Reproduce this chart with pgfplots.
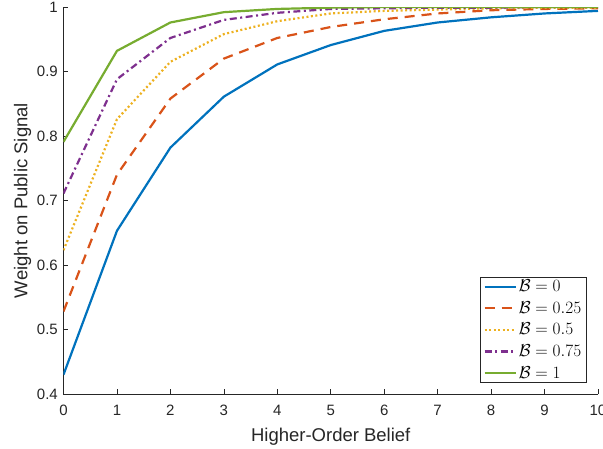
\documentclass[border=0pt]{standalone}
\usepackage[no-math]{fontspec}
\setmainfont{Liberation Sans}
\usepackage{pgfplots}
\pgfplotsset{compat=1.18}
\definecolor{c1}{rgb}{0,0.447,0.741}
\definecolor{c2}{rgb}{0.85,0.325,0.098}
\definecolor{c3}{rgb}{0.929,0.694,0.125}
\definecolor{c4}{rgb}{0.494,0.184,0.556}
\definecolor{c5}{rgb}{0.466,0.674,0.188}
\definecolor{mgray}{rgb}{0.15,0.15,0.15}
\begin{document}
\begin{tikzpicture}
\begin{axis}[
  scale only axis,
  width=534.5pt, height=387pt,
  at={(0pt,0pt)}, anchor=south west,
  xmin=0, xmax=10, ymin=0.4, ymax=1,
  xtick={0,1,...,10},
  ytick={0.4,0.5,0.6,0.7,0.8,0.9,1},
  yticklabels={0.4,0.5,0.6,0.7,0.8,0.9,1},
  axis x line*=bottom, axis y line*=left,
  axis line style={mgray, line width=0.6pt},
  tick align=inside,
  major tick length=5pt,
  tick style={mgray, line width=0.6pt},
  /pgf/number format/assume math mode=true,
  ticklabel style={font=\fontsize{15}{17}\selectfont, text=mgray},
  xticklabel style={anchor=base, yshift=-21.7pt, inner sep=0pt},
  yticklabel style={anchor=east, xshift=-5.5pt, inner sep=0pt},
  xlabel={Higher-Order Belief},
  ylabel={Weight on Public Signal},
  label style={font=\fontsize{18.5}{21}\selectfont, text=mgray},
  xlabel style={at={(axis description cs:0.5,0)}, anchor=base, yshift=-47pt, inner sep=0pt},
  ylabel style={at={(axis description cs:-0.0767,0.5)}, anchor=center, inner sep=0pt},
  legend style={at={(axis description cs:0.9794,0.0284)}, anchor=south east,
    draw=mgray, line width=0.6pt, inner xsep=3.5pt, inner ysep=1pt,
    font=\fontsize{16.5}{19}\selectfont,
    /tikz/every odd column/.append style={column sep=0pt},
    /tikz/row sep=4.3pt},
  legend cell align=left,
  legend image code/.code={\draw[#1] (0pt,0pt) -- (31pt,0pt);},
  every axis plot/.append style={line width=2.2pt},
]
\addplot[c1, solid] coordinates {(0,0.430) (1,0.653) (2,0.782) (3,0.861) (4,0.911) (5,0.941) (6,0.963) (7,0.976) (8,0.984) (9,0.990) (10,0.994)};
\addplot[c2, dash pattern=on 10pt off 7pt] coordinates {(0,0.528) (1,0.740) (2,0.858) (3,0.920) (4,0.952) (5,0.969) (6,0.981) (7,0.990) (8,0.995) (9,0.997) (10,0.998)};
\addplot[c3, dash pattern=on 2pt off 2.5pt] coordinates {(0,0.623) (1,0.826) (2,0.915) (3,0.958) (4,0.978) (5,0.990) (6,0.994) (7,0.996) (8,0.998) (9,0.999) (10,0.999)};
\addplot[c4, dash pattern=on 7pt off 3.5pt on 2pt off 3.5pt] coordinates {(0,0.711) (1,0.888) (2,0.952) (3,0.980) (4,0.991) (5,0.997) (6,0.998) (7,0.999) (8,0.999) (9,1.0) (10,1.0)};
\addplot[c5, solid] coordinates {(0,0.791) (1,0.932) (2,0.976) (3,0.992) (4,0.997) (5,0.999) (6,1.0) (7,1.0) (8,1.0) (9,1.0) (10,1.0)};
\addlegendentry{$\mathcal{B}=0$}
\addlegendentry{$\mathcal{B}=0.25$}
\addlegendentry{$\mathcal{B}=0.5$}
\addlegendentry{$\mathcal{B}=0.75$}
\addlegendentry{$\mathcal{B}=1$}
\end{axis}
\pgfresetboundingbox
\useasboundingbox (-63.5pt,-54pt) rectangle (539.5pt,394pt);
\end{tikzpicture}
\end{document}
